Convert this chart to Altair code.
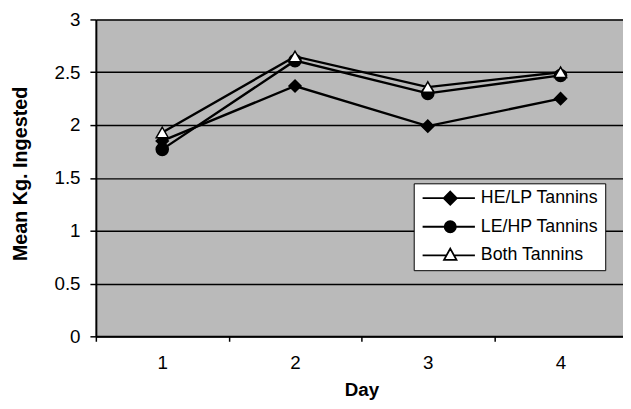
import altair as alt
import pandas as pd

days = ["1", "2", "3", "4"]
series = ["HE/LP Tannins", "LE/HP Tannins", "Both Tannins"]
he_lp = [1.85, 2.37, 1.99, 2.25]
le_hp = [1.77, 2.61, 2.30, 2.47]
both = [1.93, 2.65, 2.36, 2.50]
y_ticks = [0, 0.5, 1, 1.5, 2, 2.5, 3]

rows = []
for s, vals in zip(series, [he_lp, le_hp, both]):
    for d, v in zip(days, vals):
        rows.append({"Day": d, "Series": s, "Value": v})
df = pd.DataFrame(rows)

FONT = "Liberation Sans"

# legend symbol paths: line with marker (units of 6px)
p_diamond = "M-1,0H7.83M3.67,-1.1L4.77,0L3.67,1.1L2.57,0Z"
p_circle = "M-1,0H7.83M2.72,0A0.95,0.95 0 1,0 4.62,0A0.95,0.95 0 1,0 2.72,0Z"
p_triangle = "M-1,0H3.03M4.31,0H7.83M3.67,-1.15L4.72,0.75L2.62,0.75Z"

x_enc = alt.X(
    "Day:O",
    scale=alt.Scale(type="band", range=[0, 538], paddingInner=0, paddingOuter=0),
    axis=alt.Axis(
        title="Day",
        labelAngle=0,
        labelFont=FONT,
        labelFontSize=19,
        labelColor="black",
        labelPadding=13,
        tickBand="extent",
        tickColor="black",
        tickSize=5,
        tickWidth=1.5,
        domainColor="black",
        domainWidth=2,
        grid=False,
        titleFont=FONT,
        titleFontSize=19,
        titleFontWeight="bold",
        titleColor="black",
        titleBaseline="alphabetic",
        titleY=60,
    ),
)
y_enc = alt.Y(
    "Value:Q",
    scale=alt.Scale(domain=[0, 3], nice=False, zero=True),
    axis=alt.Axis(
        title="Mean Kg. Ingested",
        values=y_ticks,
        format="~g",
        labelFont=FONT,
        labelFontSize=19,
        labelColor="black",
        labelPadding=10,
        tickColor="black",
        tickSize=6,
        tickWidth=1.5,
        domainColor="black",
        domainWidth=2,
        grid=True,
        gridColor="black",
        gridWidth=1.5,
        gridOpacity=1,
        titleFont=FONT,
        titleFontSize=20,
        titleFontWeight="bold",
        titleColor="black",
        titleAngle=270,
        titleAlign="center",
        titleBaseline="middle",
        titleX=-76,
        titleY=156,
    ),
)

lines = alt.Chart(df).mark_line(color="black", strokeWidth=2.4).encode(
    x=x_enc, y=y_enc, detail="Series:N"
)

points = alt.Chart(df).mark_point(
    filled=True, size=150, stroke="black", strokeWidth=1.5, opacity=1
).encode(
    x=x_enc,
    y=y_enc,
    shape=alt.Shape(
        "Series:N",
        scale=alt.Scale(domain=series, range=["diamond", "circle", "triangle-up"]),
        legend=None,
    ),
    fill=alt.Fill(
        "Series:N",
        scale=alt.Scale(domain=series, range=["black", "black", "white"]),
        legend=None,
    ),
)

legend_spec = alt.Legend(
    title=None,
    orient="none",
    legendX=322,
    legendY=166,
    fillColor="white",
    strokeColor="black",
    padding=6,
    rowPadding=8,
    symbolSize=144,
    symbolStrokeColor="black",
    symbolStrokeWidth=1.8,
    symbolOpacity=1,
    labelOffset=44,
    labelFont=FONT,
    labelFontSize=18,
    labelColor="black",
    labelLimit=300,
)

legend_layer = (
    alt.Chart(df)
    .transform_filter("false")
    .mark_point(filled=True, size=144, strokeWidth=1.8, opacity=1)
    .encode(
        x=x_enc,
        y=y_enc,
        shape=alt.Shape(
            "Series:N",
            scale=alt.Scale(domain=series, range=[p_diamond, p_circle, p_triangle]),
            legend=legend_spec,
        ),
        fill=alt.Fill(
            "Series:N",
            scale=alt.Scale(domain=series, range=["black", "black", "white"]),
            legend=legend_spec,
        ),
        stroke=alt.Stroke(
            "Series:N",
            scale=alt.Scale(domain=series, range=["black", "black", "black"]),
            legend=legend_spec,
        ),
    )
)

chart = (
    alt.layer(lines, points, legend_layer)
    .resolve_scale(shape="independent", fill="independent", stroke="independent")
    .properties(
        width=534,
        height=321,
        autosize=alt.AutoSizeParams(type="none"),
        padding={"left": 89, "top": 9, "right": 0, "bottom": 70},
        background="white",
    )
    .configure_view(fill="#bababa", stroke=None)
)

chart.save("out.html", embed_options={"renderer": "svg", "actions": False})
